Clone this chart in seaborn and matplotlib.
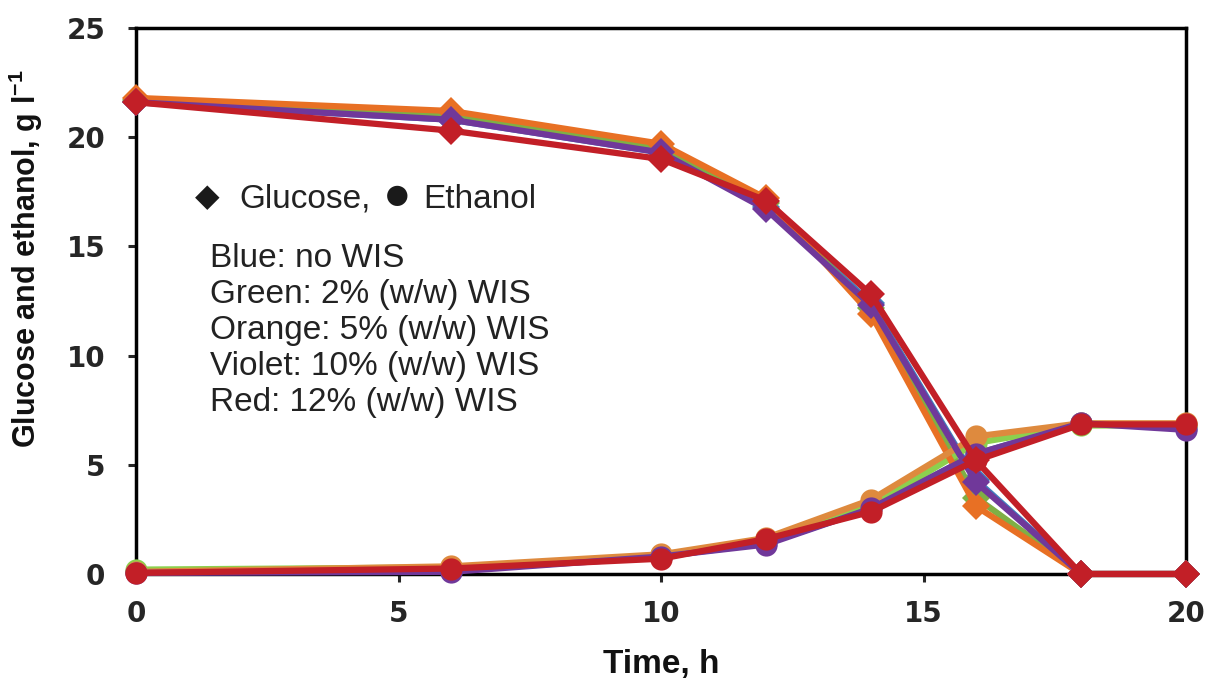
import matplotlib
matplotlib.use("Agg")
import matplotlib.pyplot as plt
import pandas as pd
import seaborn as sns

sns.set_theme(style="white")
plt.rcParams['font.family'] = ['Liberation Sans', 'DejaVu Sans']

# thoi gian lay mau (h)
time_h = [0, 6, 10, 12, 14, 16, 18, 20]

# glucose, g/l
glc_blue = [21.6, 20.8, 19.3, 16.8, 12.4, 4.3, 0.0, 0.0]
glc_green = [21.7, 21.0, 19.5, 17.0, 12.2, 3.5, 0.0, 0.0]
glc_orange = [21.8, 21.2, 19.7, 17.2, 11.9, 3.1, 0.0, 0.0]
glc_violet = [21.6, 20.8, 19.3, 16.7, 12.3, 4.2, 0.0, 0.0]
glc_red = [21.6, 20.3, 19.0, 17.1, 12.8, 5.2, 0.0, 0.0]

# ethanol, g/l
eth_blue = [0.1, 0.15, 0.8, 1.4, 3.0, 5.5, 6.9, 6.7]
eth_green = [0.2, 0.3, 0.85, 1.55, 3.1, 6.0, 6.8, 6.8]
eth_orange = [0.1, 0.35, 0.9, 1.65, 3.4, 6.3, 6.9, 6.9]
eth_violet = [0.05, 0.1, 0.8, 1.35, 3.0, 5.5, 6.9, 6.6]
eth_red = [0.05, 0.25, 0.7, 1.6, 2.85, 5.2, 6.85, 6.85]

series = [
    ("blue", glc_blue, eth_blue, "#3F7FBF", "#3F7FBF"),
    ("green", glc_green, eth_green, "#7FAF45", "#8CD04E"),
    ("orange", glc_orange, eth_orange, "#E87024", "#DE8A3E"),
    ("violet", glc_violet, eth_violet, "#70389A", "#70389A"),
    ("red", glc_red, eth_red, "#C21F27", "#C21F27"),
]

legend_lines = ["Blue: no WIS", "Green: 2% (w/w) WIS", "Orange: 5% (w/w) WIS",
                "Violet: 10% (w/w) WIS", "Red: 12% (w/w) WIS"]

fig = plt.figure(figsize=(12.07, 6.83), dpi=100)
ax = fig.add_axes([0.1127, 0.1596, 0.8699, 0.7994])

for name, glc, eth, c_glc, c_eth in series:
    df = pd.DataFrame({"t": time_h, "glc": glc, "eth": eth})
    sns.lineplot(data=df, x="t", y="glc", ax=ax, color=c_glc, linewidth=4.5,
                 marker="D", markersize=14, markeredgewidth=0, clip_on=False,
                 zorder=3)
    sns.lineplot(data=df, x="t", y="eth", ax=ax, color=c_eth, linewidth=4.5,
                 marker="o", markersize=16, markeredgewidth=0, clip_on=False,
                 zorder=3)

ax.set_xlim(0, 20)
ax.set_ylim(0, 25)
ax.set_xticks([0, 5, 10, 15, 20])
ax.set_yticks([0, 5, 10, 15, 20, 25])
ax.tick_params(direction="out", length=6, width=2.2, bottom=True, left=True)
ax.tick_params(axis="x", pad=13)
ax.tick_params(axis="y", pad=16)
for lab in ax.get_xticklabels() + ax.get_yticklabels():
    lab.set_fontweight("bold")
    lab.set_fontsize(20)
    lab.set_family("DejaVu Sans")
for s in ax.spines.values():
    s.set_linewidth(2.5)
    s.set_color("black")

ax.set_xlabel("Time, h", fontsize=24, fontweight="bold", labelpad=15,
              color="#111111")
ax.set_ylabel("Glucose and ethanol, g l$^{\\mathregular{-1}}$", fontsize=22,
              fontweight="bold", color="#111111")
ax.yaxis.set_label_coords(-0.0867, 0.577)


def px(x, y):
    # pixel tren anh -> toa do phan so cua truc
    return (x - 136) / 1050, (574 - y) / 546


# dong ky hieu: ◆ Glucose, ● Ethanol
kw = dict(transform=ax.transAxes, va="baseline", ha="left", color="#222222")
sym = dict(transform=ax.transAxes, va="center", ha="center", color="#1a1a1a")
ax.text(*px(207, 198), "\u25C6", fontsize=23, **sym)
ax.text(*px(239, 208), "Glucose,", fontsize=24, **kw)
ax.text(*px(397, 197), "\u25CF", fontsize=34, **sym)
ax.text(*px(423, 208), "Ethanol", fontsize=24, **kw)

for i, line in enumerate(legend_lines):
    ax.text(*px(210, 267 + 36 * i), line, fontsize=24, **kw)

fig.savefig("out.png", dpi=100)
